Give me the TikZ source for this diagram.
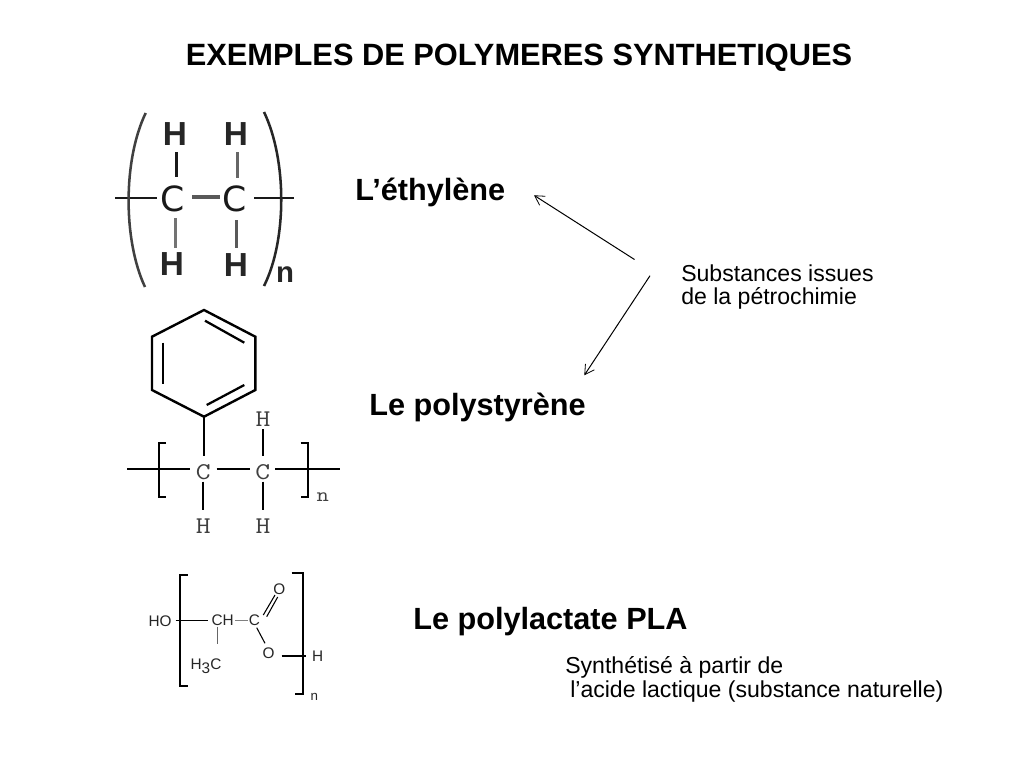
\documentclass[tikz,border=0pt]{standalone}
\usepackage{fontspec}
\setmainfont{Liberation Sans}
\newfontfamily\molA{DejaVu Sans}
\usetikzlibrary{arrows.meta}
\newcommand{\wid}[1]{\scalebox{1.2}[1]{#1}}
\tikzset{
  x=0.75pt,y=-0.75pt,
  txt/.style={anchor=base west,inner sep=0pt,text=black},
  bold/.style={txt,font=\fontsize{23}{27}\selectfont\bfseries},
  small/.style={txt,font=\fontsize{17.3}{20}\selectfont},
  bondA/.style={line width=1.9pt,line cap=butt,black!90},
  bondB/.style={line width=1.3pt,black,line join=miter},
  bondC/.style={line width=1.1pt,black},
  atomA/.style={inner sep=0pt,font=\fontsize{25}{25}\selectfont\bfseries,text=black!85},
  atomAc/.style={inner sep=0pt,font=\fontsize{26}{26}\selectfont\molA,text=black!90},
  atomB/.style={inner sep=0pt,font=\fontsize{18}{18}\selectfont\ttfamily,text=black!75},
  atomC/.style={inner sep=0pt,font=\fontsize{11.5}{12}\selectfont,text=black!85},
  arrowline/.style={line width=0.75pt,black,-{Straight Barb[length=7pt,width=8pt,line width=0.6pt]}}
}
\begin{document}
\begin{tikzpicture}
\useasboundingbox (0,0) rectangle (1023,767);
\fill[white] (0,0) rectangle (1023,767);
% title
\node[txt,anchor=base,font=\fontsize{23.1}{27}\selectfont\bfseries] (title) at (519,65) {EXEMPLES DE POLYMERES SYNTHETIQUES};
% labels
\node[bold] (eth) at (355,200) {L’éthylène};
\node[bold] (sty) at (369,415) {Le polystyrène};
\node[bold] (pla) at (413,629) {Le polylactate PLA};
\node[small] (sub1) at (681,281) {Substances issues};
\node[small] (sub2) at (681,304) {de la pétrochimie};
\node[small] (syn1) at (565,673) {Synthétisé à partir de};
\node[small] (syn2) at (570,697) {l’acide lactique (substance naturelle)};
% arrows
\coordinate (a1s) at (634.5,259.5);
\coordinate (a1e) at (534,195.3);
\coordinate (a2s) at (650,275.7);
\coordinate (a2e) at (584.3,375.3);
\draw[arrowline] (a1s) -- (a1e);
\draw[arrowline] (a2s) -- (a2e);
% polyethylene
\node[atomA] (eH1) at (175,134) {H};
\node[atomA] (eH2) at (236,134) {H};
\node[atomAc] (eC1) at (173,199) {C};
\node[atomAc] (eC2) at (235,199) {C};
\node[atomA] (eH3) at (172,264) {H};
\node[atomA] (eH4) at (236,265) {H};
\node[atomA,font=\fontsize{22}{22}\selectfont\bfseries] (en) at (285,275) {n};
\draw[bondA] (176.5,152) -- (176.5,177);
\draw[bondA,black!60] (237.7,152) -- (237.7,178);
\draw[bondA,black!65,line width=2.3pt] (192,197) -- (220,197);
\draw[bondA] (115,198) -- (157,198);
\draw[bondA] (254,198) -- (294,198);
\draw[bondA,black!55] (175.7,218) -- (175.7,248);
\draw[bondA,black!65] (236.7,220) -- (236.7,248);
\draw[line width=1.9pt,black!75] (145.7,113) .. controls (123,160) and (123,240) .. (145,287);
\draw[line width=1.9pt,black!85] (264,112) .. controls (287,160) and (287,240) .. (264,286);
% polystyrene
\draw[bondB,line width=1.8pt] (204,310) -- (255.3,336.7) -- (255.3,390) -- (204,416.7) -- (152,390) -- (152,336.7) -- cycle;
\draw[bondB,line width=1.7pt] (205,320.7) -- (244.3,342.7);
\draw[bondB,line width=1.7pt] (162.7,342.7) -- (162.7,384.3);
\draw[bondB,line width=1.7pt] (206.7,405) -- (244.3,385);
\node[atomB] (sC1) at (203.3,472) {\wid{C}};
\node[atomB] (sC2) at (262.7,472) {\wid{C}};
\node[atomB] (sH1) at (263,419) {\wid{H}};
\node[atomB] (sH2) at (203.3,525.7) {\wid{H}};
\node[atomB] (sH3) at (263,525.7) {\wid{H}};
\node[atomB,font=\fontsize{15}{15}\selectfont\ttfamily] (sn) at (322.7,497) {\wid{n}};
\draw[bondB] (204,416.7) -- (204,456);
\draw[bondB] (127,469.3) -- (190,469.3);
\draw[bondB] (216.7,469.3) -- (250,469.3);
\draw[bondB] (275,469.3) -- (340,469.3);
\draw[bondB] (262.7,429) -- (262.7,456);
\draw[bondB] (203.3,481.7) -- (203.3,510);
\draw[bondB] (262.7,481.7) -- (262.7,510);
\draw[bondB] (166,442.7) -- (159.3,442.7) -- (159.3,496.7) -- (166,496.7);
\draw[bondB] (300.7,442.7) -- (307.7,442.7) -- (307.7,496.7) -- (300.7,496.7);
% PLA
\draw[bondC,line width=1.4pt] (187.7,575) -- (180,575) -- (180,685.7) -- (187.7,685.7);
\draw[bondC,line width=1.4pt] (291.7,572.7) -- (302.7,572.7) -- (302.7,694) -- (295,694);
\node[atomC] (pHO) at (160,621) {HO};
\node[atomC] (pCH) at (222.7,620.7) {CH};
\node[atomC] (pC) at (254.3,620) {C};
\node[atomC] (pO1) at (279.3,589) {O};
\node[atomC] (pO2) at (268.7,653.7) {O};
\node[atomC] (pH) at (317.7,656.3) {H};
\node[atomC,font=\fontsize{10}{11}\selectfont] (pn) at (314.3,696.7) {n};
\node[atomC,anchor=base] (pH3C) at (206,669.5) {H\raisebox{-0.55ex}{3}C};
\draw[bondC] (175.7,620.7) -- (208.3,620.7);
\draw[bondC,black!50] (235,620.7) -- (248.3,620.7);
\draw[bondC,line width=0.8pt] (263.3,615) -- (275,595);
\draw[bondC,line width=0.8pt] (266.7,616.7) -- (277.7,597);
\draw[bondC,line width=0.8pt] (256.7,627.7) -- (265,643.3);
\draw[bondC,line width=1.3pt] (281.7,656) -- (306,656);
\draw[bondC,line width=0.7pt,black!60] (217.7,626.7) -- (217.7,644);
\end{tikzpicture}
\end{document}
